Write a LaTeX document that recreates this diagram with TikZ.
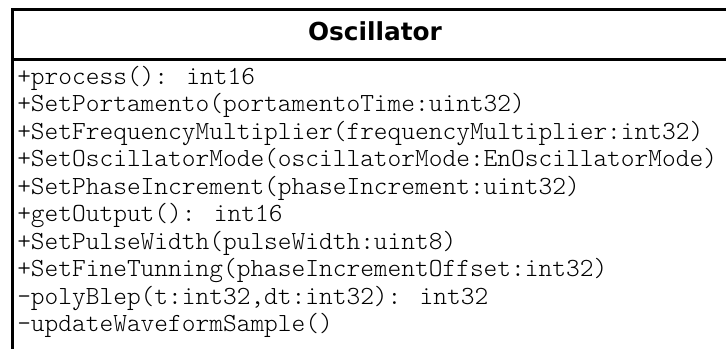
\documentclass[tikz,border=0pt]{standalone}
\usepackage{fontspec}
\newfontfamily\titlefont{DejaVu Sans}
\newfontfamily\codefont{Latin Modern Mono Light}
\begin{document}
\begin{tikzpicture}[x=0.75pt,y=-0.75pt,
  frame/.style={line width=2.25pt, line cap=rect},
  classname/.style={font=\titlefont\bfseries\fontsize{18.6}{22}\selectfont, inner sep=0pt, anchor=base},
  member/.style={font=\codefont\fontsize{19.6}{22}\selectfont, text=black, inner sep=0pt, anchor=base west}]
  \useasboundingbox (0,0) rectangle (726,349);
  \clip (0,0) rectangle (726,349);
  \fill[white] (0,0) rectangle (726,349);

  % class box: outline and compartment separator
  \coordinate (tl) at (12.5,9.5);
  \coordinate (tr) at (745,9.5);
  \coordinate (bl) at (12.5,370);
  \coordinate (sl) at (12.5,59.5);
  \coordinate (sr) at (745,59.5);
  \draw[frame] (tr) -- (tl) -- (bl);
  \draw[frame] (sl) -- (sr);

  % class name
  \node[classname] (name) at (375,41) {Oscillator};

  % operations
  \node[member] (m1)  at (17,84.5)  {+process(): int16};
  \node[member] (m2)  at (17,112.0) {+SetPortamento(portamentoTime:uint32)};
  \node[member] (m3)  at (17,139.5) {+SetFrequencyMultiplier(frequencyMultiplier:int32)};
  \node[member] (m4)  at (17,167.0) {+SetOscillatorMode(oscillatorMode:EnOscillatorMode)};
  \node[member] (m5)  at (17,194.5) {+SetPhaseIncrement(phaseIncrement:uint32)};
  \node[member] (m6)  at (17,222.0) {+getOutput(): int16};
  \node[member] (m7)  at (17,249.5) {+SetPulseWidth(pulseWidth:uint8)};
  \node[member] (m8)  at (17,277.0) {+SetFineTunning(phaseIncrementOffset:int32)};
  \node[member] (m9)  at (17,304.5) {-polyBlep(t:int32,dt:int32): int32};
  \node[member] (m10) at (17,332.0) {-updateWaveformSample()};
\end{tikzpicture}
\end{document}
